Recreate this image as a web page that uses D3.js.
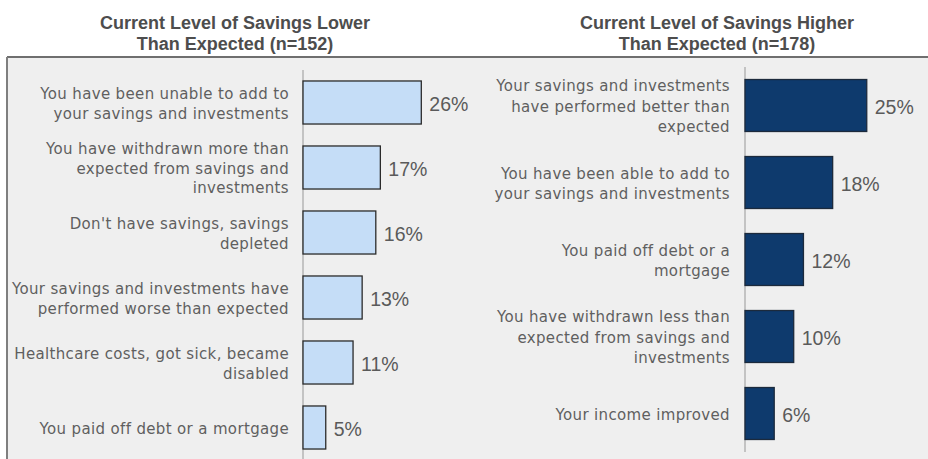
<!DOCTYPE html>
<html>
<head>
<meta charset="utf-8">
<script src="https://cdn.jsdelivr.net/npm/d3@7"></script>
<style>
  html, body { margin: 0; padding: 0; background: #ffffff; }
  svg { display: block; }
</style>
</head>
<body>
<svg id="chart" width="928" height="459"></svg>
<script>
// Reasons behind savings being lower than expected (n=152)
const lowerTitle = ["Current Level of Savings Lower", "Than Expected (n=152)"];
const lowerCategories = [
  ["You have been unable to add to", "your savings and investments"],
  ["You have withdrawn more than", "expected from savings and", "investments"],
  ["Don't have savings, savings", "depleted"],
  ["Your savings and investments have", "performed worse than expected"],
  ["Healthcare costs, got sick, became", "disabled"],
  ["You paid off debt or a mortgage"]
];
const lowerValues = [26, 17, 16, 13, 11, 5];

// Reasons behind savings being higher than expected (n=178)
const higherTitle = ["Current Level of Savings Higher", "Than Expected (n=178)"];
const higherCategories = [
  ["Your savings and investments", "have performed better than", "expected"],
  ["You have been able to add to", "your savings and investments"],
  ["You paid off debt or a", "mortgage"],
  ["You have withdrawn less than", "expected from savings and", "investments"],
  ["Your income improved"]
];
const higherValues = [25, 18, 12, 10, 6];

const svg = d3.select("#chart");
const W = 928, H = 459;

// shaded plot panel with a border on its top and left edges
svg.append("rect").attr("x", 7).attr("y", 57).attr("width", W - 7).attr("height", H - 57)
  .attr("fill", "#efefef");
svg.append("line").attr("x1", 7).attr("x2", W).attr("y1", 57).attr("y2", 57)
  .attr("stroke", "#6f6f6f").attr("stroke-width", 2);
svg.append("line").attr("x1", 7).attr("x2", 7).attr("y1", 57).attr("y2", H)
  .attr("stroke", "#7f7f7f").attr("stroke-width", 2);

const labelFont = "'DejaVu Sans', sans-serif";
const titleFont = "'Liberation Sans', Arial, sans-serif";
const valueFont = "'Liberation Sans', Arial, sans-serif";

function drawPanel(cfg) {
  const g = svg.append("g");

  // title, two centred bold lines
  const t = g.append("text")
    .attr("x", cfg.titleX).attr("y", 29)
    .attr("text-anchor", "middle")
    .attr("font-family", titleFont).attr("font-weight", "bold")
    .attr("font-size", 18).attr("fill", "#4d4d4d");
  cfg.title.forEach((line, i) => {
    t.append("tspan").attr("x", cfg.titleX).attr("dy", i === 0 ? 0 : 20.5).text(line);
  });

  const y = d3.scaleBand()
    .domain(d3.range(cfg.values.length))
    .range(cfg.yRange)
    .paddingInner(cfg.pad).paddingOuter(cfg.pad / 2);

  const x = d3.scaleLinear()
    .domain([0, 100])
    .range([cfg.x0, cfg.x0 + cfg.pxPerPct * 100]);

  // category axis: a bare vertical line, no ticks
  g.append("line")
    .attr("x1", x(0)).attr("x2", x(0))
    .attr("y1", cfg.yRange[0]).attr("y2", cfg.yRange[1])
    .attr("stroke", "#b5b5b5").attr("stroke-width", 1.5);

  g.selectAll("rect.bar").data(cfg.values).join("rect")
    .attr("class", "bar")
    .attr("x", x(0))
    .attr("y", (d, i) => y(i))
    .attr("width", d => x(d) - x(0))
    .attr("height", y.bandwidth())
    .attr("fill", cfg.fill)
    .attr("stroke", cfg.stroke).attr("stroke-width", 1.3);

  g.selectAll("text.val").data(cfg.values).join("text")
    .attr("class", "val")
    .attr("x", d => x(d) + 8)
    .attr("y", (d, i) => y(i) + y.bandwidth() / 2 + 1)
    .attr("dy", "0.36em")
    .attr("font-family", valueFont).attr("font-size", 19.5)
    .attr("fill", "#5a5a5a")
    .text(d => d + "%");

  g.selectAll("text.cat").data(cfg.categories).join("text")
    .attr("class", "cat")
    .attr("text-anchor", "end")
    .attr("font-family", labelFont).attr("font-size", 15)
    .attr("letter-spacing", 0.35)
    .attr("fill", "#5f5f5f")
    .each(function(lines, i) {
      const cy = y(i) + y.bandwidth() / 2 + 1;
      const top = cy - (lines.length - 1) * cfg.lineH / 2;
      const el = d3.select(this);
      lines.forEach((ln, k) => {
        el.append("tspan")
          .attr("x", x(0) - cfg.labelGap)
          .attr("y", top + k * cfg.lineH)
          .attr("dy", "0.36em")
          .text(ln);
      });
    });
}

drawPanel({
  title: lowerTitle, titleX: 235,
  categories: lowerCategories, values: lowerValues,
  x0: 303, pxPerPct: 4.55, yRange: [70, 460], pad: 0.338,
  fill: "#c5ddf7", stroke: "#2b2b2b", labelGap: 14, lineH: 19.5
});

drawPanel({
  title: higherTitle, titleX: 717,
  categories: higherCategories, values: higherValues,
  x0: 745, pxPerPct: 4.87, yRange: [67, 452], pad: 0.325,
  fill: "#0e3a6d", stroke: "#1c2a3c", labelGap: 15, lineH: 20.5
});
</script>
</body>
</html>
